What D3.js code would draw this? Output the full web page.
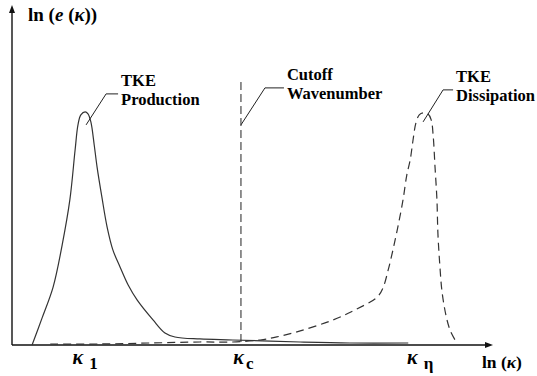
<!DOCTYPE html>
<html><head><meta charset="utf-8">
<script src="https://cdn.jsdelivr.net/npm/d3@7"></script>
<style>
html,body{margin:0;padding:0;background:#fff;}
svg{display:block;}
text{font-family:"Liberation Serif","Times New Roman",serif;font-weight:bold;fill:#000;}
</style></head>
<body>
<svg id="chart" width="537" height="376"></svg>
<script>
// ---- data (ln κ on x, ln e(κ) on y, arbitrary units 0..100) ----
const productionX = [4.2,6.3,8.6,10.5,12.1,13.2,13.8,14.4,15.3,15.9,16.5,17.2,17.8,18.8,19.9,21.1,22.6,24.3,26.2,29.5,32.0,34.1,39.3,46.2,60.3,70.7,82.9];
const productionY = [0,8.1,17.3,29.9,43.3,58.2,65.7,68.7,69.6,69.0,66.6,59.7,53.1,44.2,35.2,28.4,23.3,17.9,13.4,7.5,3.6,2.4,1.8,1.5,0.9,0.6,0.6];
const dissipationX = [8.0,18.4,28.9,39.3,46.2,51.9,55.4,60.3,67.2,71.8,76.4,77.6,78.7,79.7,80.8,81.8,82.6,83.3,83.9,84.5,85.2,86.0,87.0,87.7,88.1,88.5,88.9,89.1,89.5,90.0,91.0,91.8,92.7];
const dissipationY = [0.3,0.3,0.6,0.9,0.9,1.5,2.4,4.2,7.5,10.5,14.3,17.0,22.4,28.4,35.8,43.3,50.8,55.2,61.2,66.3,68.7,69.3,69.0,67.2,62.7,53.1,43.3,33.4,23.9,15.5,7.5,3.9,1.5];
const cutoffX = 47.9;
const tickValues = [15.3, 48.4, 85.4];
const tickMain = ["κ", "κ", "κ"];
const tickSub = ["1", "c", "η"];
const annotations = [
  {lines:["TKE","Production"], ax:15.5, ay:65.7},
  {lines:["Cutoff","Wavenumber"], ax:cutoffX, ay:65.7},
  {lines:["TKE","Dissipation"], ax:86.0, ay:66.6}
];

const svg = d3.select("#chart");
const x = d3.scaleLinear().domain([0,100]).range([12,490]);
const y = d3.scaleLinear().domain([0,100]).range([345,10]);

// axes
const xAxis = d3.axisBottom(x).tickValues(tickValues).tickSize(0).tickFormat("");
const gx = svg.append("g").attr("transform","translate(0,345)").call(xAxis);
gx.select(".domain").attr("d","M12,0H487").attr("stroke","#111").attr("stroke-width",1.6);
const yAxis = d3.axisLeft(y).tickValues([]).tickSize(0);
const gy = svg.append("g").attr("transform","translate(12,0)").call(yAxis);
gy.select(".domain").attr("d","M0,345V11").attr("stroke","#111").attr("stroke-width",1.4);
// arrowheads
svg.append("path").attr("d","M12,5L9,13L15,13Z").attr("fill","#111");
svg.append("path").attr("d","M493,345L485,342L485,348Z").attr("fill","#111");

// tick labels
tickValues.forEach((v,i)=>{
  const t = svg.append("text").attr("x", x(v)).attr("y",364).attr("text-anchor","middle").style("font-size","20px");
  t.append("tspan").text(tickMain[i]).style("font-style","italic");
  t.append("tspan").text(tickSub[i]).attr("dx", i===1?2:6).attr("dy",5).style("font-size","17px");
});
// axis titles
const xt = svg.append("text").attr("x",482).attr("y",368).style("font-size","17.5px");
xt.append("tspan").text("ln (");
xt.append("tspan").text("κ").style("font-style","italic");
xt.append("tspan").text(")");
const yt = svg.append("text").attr("x",28).attr("y",21).style("font-size","19px");
yt.append("tspan").text("ln (");
yt.append("tspan").text("e").style("font-style","italic");
yt.append("tspan").text(" (");
yt.append("tspan").text("κ").style("font-style","italic");
yt.append("tspan").text("))");

// curves
const line = d3.line().x(d=>x(d[0])).y(d=>y(d[1])).curve(d3.curveCatmullRom.alpha(0.5));
svg.append("path").datum(productionX.map((v,i)=>[v,productionY[i]]))
  .attr("d",line).attr("fill","none").attr("stroke","#333").attr("stroke-width",1.2);
svg.append("path").datum(dissipationX.map((v,i)=>[v,dissipationY[i]]))
  .attr("d",line).attr("fill","none").attr("stroke","#333").attr("stroke-width",1.2)
  .attr("stroke-dasharray","8,5");
// cutoff line
svg.append("line").attr("x1",x(cutoffX)).attr("x2",x(cutoffX)).attr("y1",y(78.5)).attr("y2",y(0))
  .attr("stroke","#222").attr("stroke-width",1).attr("stroke-dasharray","8,4");

// annotations
annotations.forEach((a,i)=>{
  const px = x(a.ax), py = y(a.ay);
  const lead = i===1 ? [[0,0],[24,-37],[43,-37]] : (i===2 ? [[0,0],[20,-32],[30,-32]] : [[0,0],[20,-31],[32,-31]]);
  svg.append("path").attr("d", d3.line()(lead.map(p=>[px+p[0],py+p[1]])))
    .attr("fill","none").attr("stroke","#222").attr("stroke-width",1);
  const tx = px + lead[2][0] + 3, ty = py + lead[2][1];
  a.lines.forEach((s,j)=>{
    svg.append("text").attr("x",tx).attr("y", ty - 8 + j*19).style("font-size","16.5px").text(s);
  });
});
</script>
</body></html>
